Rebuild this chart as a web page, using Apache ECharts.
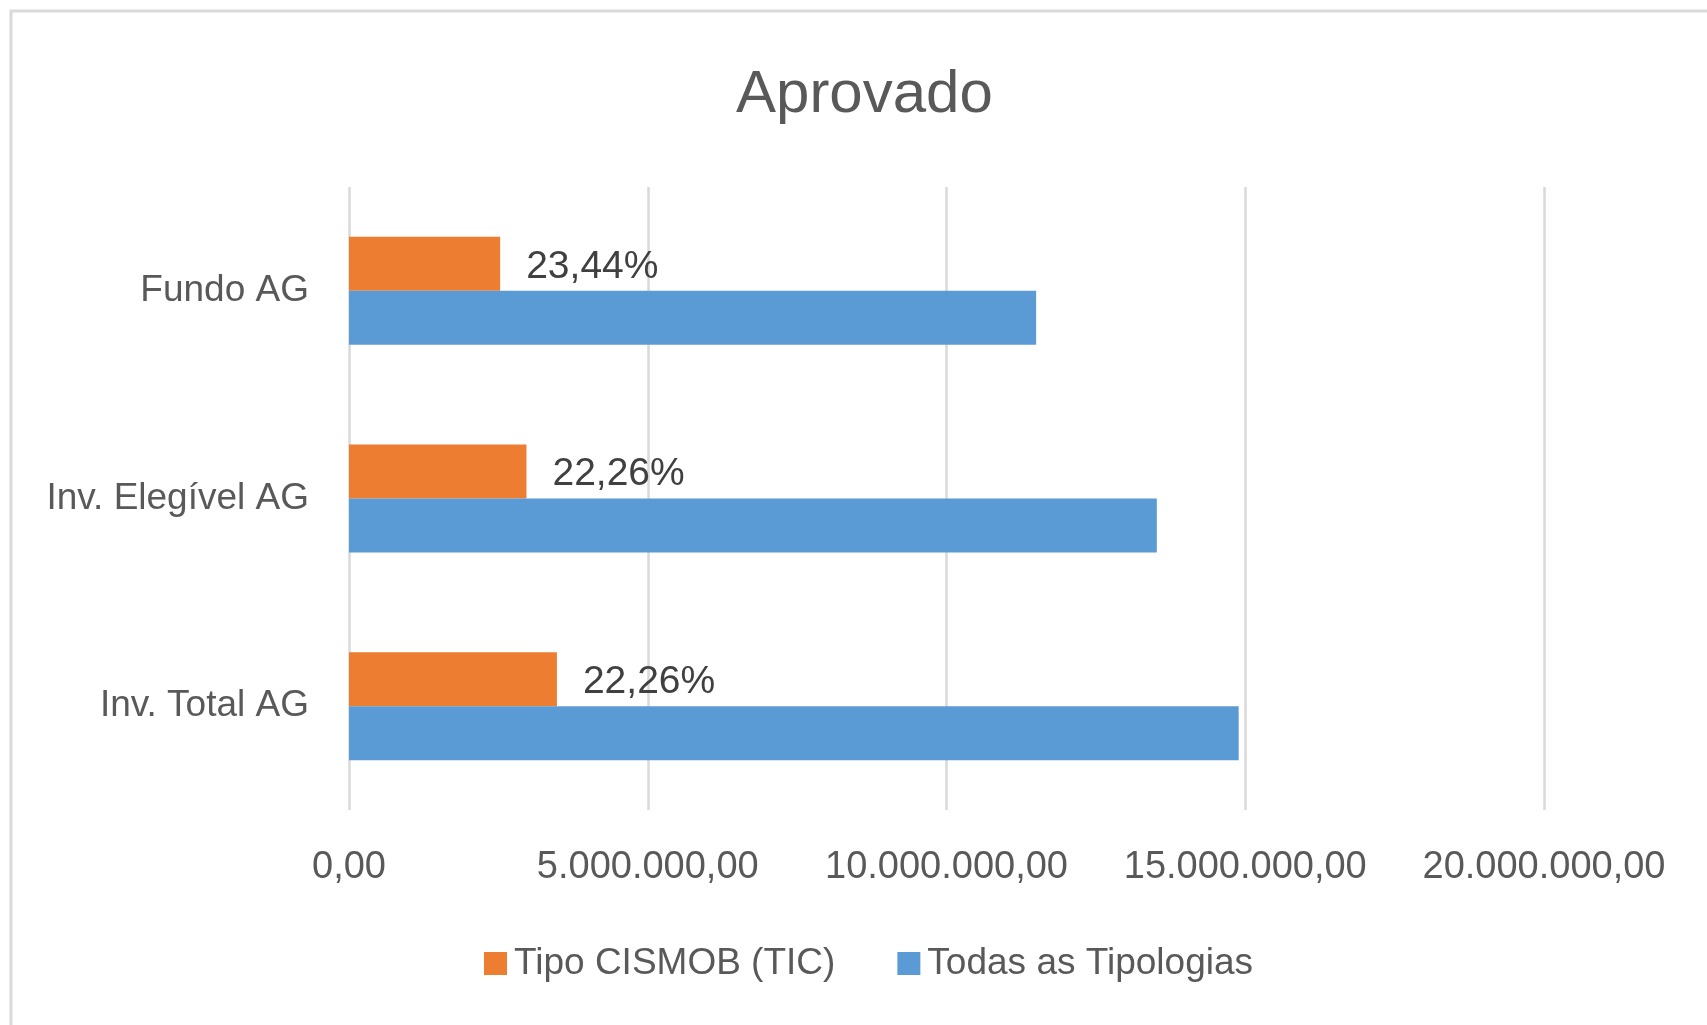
<!DOCTYPE html>
<html>
<head>
<meta charset="utf-8">
<script src="https://cdn.jsdelivr.net/npm/echarts@6/dist/echarts.min.js"></script>
<style>
html,body{margin:0;padding:0;background:#fff;}
#c{width:1707px;height:1025px;}
</style>
</head>
<body>
<div id="c"></div>
<script>
// Data (top-to-bottom display order)
var categories = ['Fundo AG', 'Inv. Elegível AG', 'Inv. Total AG'];
var ticValues = [2530000, 2970000, 3480000];
var allValues = [11500000, 13520000, 14890000];
var ticPctLabels = ['23,44%', '22,26%', '22,26%'];
var seriesNames = ['Tipo CISMOB (TIC)', 'Todas as Tipologias'];
var titleText = 'Aprovado';

function fmtNum(v) {
  var s = Math.round(v).toString();
  s = s.replace(/\B(?=(\d{3})+(?!\d))/g, '.');
  return s + ',00';
}

var font = '"Liberation Sans", Arial, sans-serif';
var chart = echarts.init(document.getElementById('c'), null, {renderer: 'canvas'});
chart.setOption({
  animation: false,
  backgroundColor: '#fff',
  title: {
    text: titleText,
    left: 731,
    top: 60,
    textStyle: {fontFamily: font, fontSize: 60, fontWeight: 'normal', color: '#595959'}
  },
  graphic: [{
    type: 'rect',
    shape: {x: 11, y: 11, width: 1900, height: 1200},
    style: {fill: 'none', stroke: '#d9d9d9', lineWidth: 3},
    silent: true
  }],
  legend: {
    data: seriesNames,
    left: 479,
    top: 940,
    icon: 'rect',
    itemWidth: 23,
    itemHeight: 23,
    itemGap: 62,
    textStyle: {fontFamily: font, fontSize: 37, color: '#595959', padding: [0, 0, 0, 2]}
  },
  grid: {left: 349, top: 187, width: 1195, height: 623, containLabel: false},
  xAxis: {
    type: 'value',
    min: 0,
    max: 20000000,
    interval: 5000000,
    axisLine: {show: false},
    axisTick: {show: false},
    splitLine: {show: true, lineStyle: {color: '#d9d9d9', width: 2.5}},
    axisLabel: {
      margin: 39,
      fontFamily: font,
      fontSize: 38,
      color: '#595959',
      formatter: function (v) { return fmtNum(v); }
    }
  },
  yAxis: {
    type: 'category',
    data: categories,
    inverse: true,
    axisLine: {show: false},
    axisTick: {show: false},
    axisLabel: {margin: 40, fontFamily: font, fontSize: 37, color: '#595959'}
  },
  series: [
    {
      name: seriesNames[0],
      type: 'bar',
      data: ticValues,
      barWidth: 54,
      barGap: '0%',
      itemStyle: {color: '#ED7D31'},
      label: {
        show: true,
        position: 'right',
        distance: 26,
        offset: [0, 3],
        fontFamily: font,
        fontSize: 39,
        color: '#404040',
        formatter: function (p) { return ticPctLabels[p.dataIndex]; }
      }
    },
    {
      name: seriesNames[1],
      type: 'bar',
      data: allValues,
      barWidth: 54,
      barGap: '0%',
      itemStyle: {color: '#5B9BD5'}
    }
  ]
});
</script>
</body>
</html>
